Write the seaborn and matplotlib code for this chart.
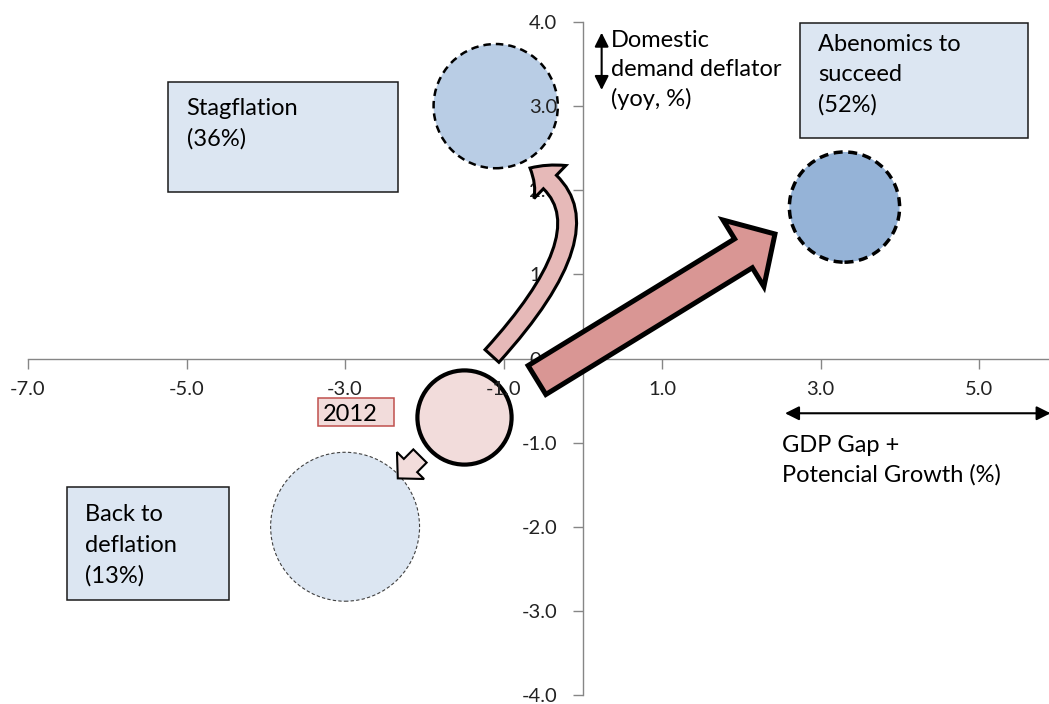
import pandas as pd
import seaborn as sns
import matplotlib.pyplot as plt
from matplotlib.patches import FancyArrowPatch, Rectangle
from matplotlib.path import Path

# scenario bubbles: x = GDP gap + potential growth, y = domestic demand deflator
scenario = ['Stagflation', 'Abenomics', '2012', 'Deflation']
gdp_gap = [-1.1, 3.3, -1.5, -3.0]
deflator = [3.0, 1.8, -0.7, -2.0]
bubble_size = [8.0, 6.3, 4.6, 11.5]

x_ticks = [-7, -5, -3, -1, 1, 3, 5]
y_ticks = [-4, -3, -2, -1, 0, 1, 2, 3, 4]

box_lines = {
    'Stagflation': ['Stagflation', '(36%)'],
    'Abenomics': ['Abenomics to', 'succeed', '(52%)'],
    'Deflation': ['Back to', 'deflation', '(13%)'],
}
y_label_lines = ['Domestic', 'demand deflator', '(yoy, %)']
x_label_lines = ['GDP Gap +', 'Potencial Growth (%)']

df = pd.DataFrame({'scenario': scenario, 'x': gdp_gap, 'y': deflator, 'size': bubble_size})

styles = {
    'Stagflation': dict(fc='#B9CDE5', ec='black', lw=1.8, ls=(0, (3, 2))),
    'Abenomics': dict(fc='#95B3D7', ec='black', lw=2.5, ls=(0, (2.6, 1.6))),
    '2012': dict(fc='#F2DCDB', ec='black', lw=3.0, ls='-'),
    'Deflation': dict(fc='#DCE6F2', ec='#404040', lw=0.8, ls=(0, (3, 2))),
}

sns.set_theme(style='white')
plt.rcParams['font.family'] = ['Lato', 'DejaVu Sans']

fig = plt.figure(figsize=(10.49, 7.04), dpi=100)
ax = fig.add_axes([28 / 1049, 9 / 704, 1021 / 1049, 673 / 704])

# bubbles sit under the axis labels, like the chart series in the original
for i, row in df.iterrows():
    st = styles[row['scenario']]
    sns.scatterplot(data=df.iloc[[i]], x='x', y='y', s=row['size'] * 1000,
                    color=st['fc'], edgecolor=st['ec'], linewidth=st['lw'],
                    linestyle=st['ls'], legend=False, ax=ax, zorder=0.3)

ax.set_xlim(-7, 5.88)
ax.set_ylim(-4, 4)
ax.set_xlabel('')
ax.set_ylabel('')

# axes crossing at the origin
ax.spines['left'].set_position(('data', 0))
ax.spines['bottom'].set_position(('data', 0))
ax.spines[['top', 'right']].set_visible(False)
for sp in ax.spines.values():
    sp.set_color('#868686')
    sp.set_linewidth(1.0)
    sp.set_zorder(0.5)
ax.set_axisbelow(True)

ax.set_xticks(x_ticks)
ax.set_xticklabels([f'{v:.1f}' for v in x_ticks])
ax.set_yticks(y_ticks)
ax.set_yticklabels([f'{v:.1f}' for v in y_ticks])
ax.tick_params(axis='x', bottom=True, direction='out', length=7, width=1,
               color='#868686', pad=9, labelsize=14.5, labelcolor='#222222')
ax.tick_params(axis='y', left=True, direction='out', length=7, width=1,
               color='#868686', pad=11.5, labelsize=14.5, labelcolor='#222222')

# scenario boxes
boxes = {
    'Stagflation': (-5.230, 1.983, 2.901, 1.307),
    'Abenomics': (2.739, 2.618, 2.876, 1.374),
    'Deflation': (-6.508, -2.871, 2.044, 1.344),
}
text_pos = {
    'Stagflation': (-4.998, 2.894),
    'Abenomics': (2.970, 3.659),
    'Deflation': (-6.281, -1.932),
}


def put_lines(lines, x, y, step, size=17):
    for k, line in enumerate(lines):
        ax.annotate(line, (x, y), xytext=(0, -k * step), textcoords='offset points',
                    ha='left', va='baseline', fontsize=size, color='black',
                    zorder=8, annotation_clip=False)


for name, (x0, y0, w, h) in boxes.items():
    ax.add_patch(Rectangle((x0, y0), w, h, fc='#DCE6F2', ec='#1a1a1a', lw=1.1,
                           zorder=2, clip_on=False))
    put_lines(box_lines[name], *text_pos[name], step=22)

# 2012 label
ax.add_patch(Rectangle((-3.342, -0.802), 0.959, 0.332, fc='#F2DCDB', ec='#C0504D',
                       lw=1.1, zorder=2))
put_lines(['2012'], -3.282, -0.743, step=22)

# arrows between scenarios
big = FancyArrowPatch((-0.579, -0.256), (2.423, 1.480),
                      arrowstyle='simple,head_length=1.33,head_width=2.81,tail_width=1.22',
                      mutation_scale=20, fc='#D99694', ec='black', lw=3.6,
                      shrinkA=0, shrinkB=0, joinstyle='miter', zorder=5)
ax.add_patch(big)

curve = Path([(-1.147, 0.030), (0.468, 1.706), (-0.667, 2.264)],
             [Path.MOVETO, Path.CURVE3, Path.CURVE3])
bend = FancyArrowPatch(path=curve,
                       arrowstyle='simple,head_length=1.75,head_width=3.3,tail_width=1.35',
                       mutation_scale=10, fc='#E6B9B8', ec='black', lw=2.2,
                       joinstyle='miter', zorder=5)
ax.add_patch(bend)

small = FancyArrowPatch((-2.055, -1.159), (-2.335, -1.425),
                        arrowstyle='simple,head_length=1.3,head_width=2.75,tail_width=1.35',
                        mutation_scale=10, fc='#F2DCDB', ec='black', lw=1.5,
                        shrinkA=0, shrinkB=0, joinstyle='miter', zorder=5)
ax.add_patch(small)

# axis captions with double arrows
ax.annotate('', xy=(0.2366, 3.873), xytext=(0.2366, 3.192),
            arrowprops=dict(arrowstyle='<|-|>,head_length=0.6,head_width=0.3',
                            color='black', lw=1.5, mutation_scale=14,
                            shrinkA=0, shrinkB=0), zorder=8)
put_lines(y_label_lines, 0.351, 3.706, step=21.2)

ax.annotate('', xy=(5.9, -0.651), xytext=(2.550, -0.651), annotation_clip=False,
            arrowprops=dict(arrowstyle='<|-|>,head_length=0.6,head_width=0.3',
                            color='black', lw=1.5, mutation_scale=14,
                            shrinkA=0, shrinkB=0, clip_on=False), zorder=8)
put_lines(x_label_lines, 2.508, -1.108, step=21.2)

fig.savefig('out.png', dpi=100)
